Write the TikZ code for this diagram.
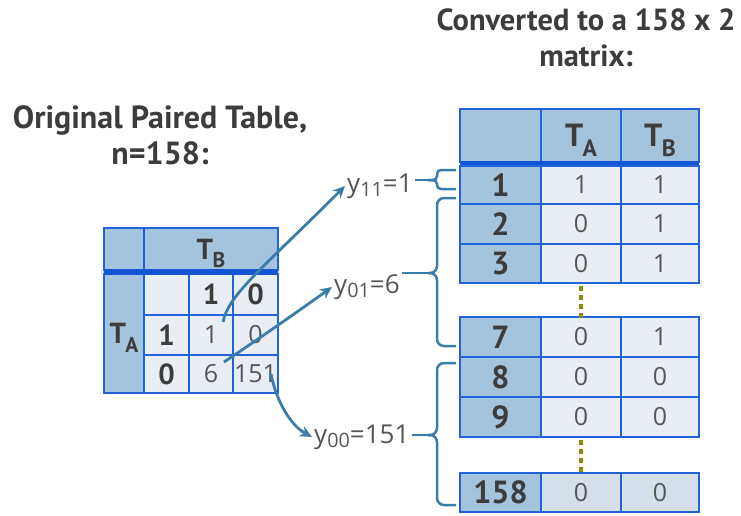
\documentclass[tikz,border=0pt]{standalone}
\usepackage{fontspec}
\usepackage{graphicx}
\setmainfont{Open Sans}
\newfontfamily\headfont{PT Sans}
\usetikzlibrary{arrows.meta}

\definecolor{hdrfill}{HTML}{A3C4DC}
\definecolor{cellfill}{HTML}{E9EEF5}
\definecolor{lastfill}{HTML}{D4DFEA}
\definecolor{gridblue}{HTML}{2263D9}
\definecolor{bandblue}{HTML}{1356D4}
\definecolor{linkblue}{HTML}{3A7DA8}
\definecolor{dotolive}{HTML}{8A8A12}
\definecolor{inktext}{HTML}{3C3C3C}
\definecolor{numtext}{HTML}{555555}

% T with a large lowered subscript
\newcommand\subT[1]{T\kern-0.02em\raisebox{-0.30em}{\scalebox{0.74}{#1}}}
% lowered subscript for the count labels
\newcommand\lsub[1]{\raisebox{-0.18em}{\scalebox{0.76}{#1}}}
% cell given by its corners: name, x1, y1, x2, y2, style, text
\newcommand\cell[7]{\node[#6, minimum width={(#4)-(#2)}, minimum height={(#5)-(#3)}] (#1) at ({((#2)+(#4))/2},{((#3)+(#5))/2}) {#7};}
% curly brace: top, bottom, middle, tip name, corner radius
\newcommand\curly[5]{%
  \coordinate (#4) at (428,#3);
  \draw[bracestyle, rounded corners=#5] (456,#1) -- (437,#1) -- (437,#3) -- (#4);
  \draw[bracestyle, rounded corners=#5] (456,#2) -- (437,#2) -- (437,#3) -- (#4);}

\begin{document}
\begin{tikzpicture}[x=1pt,y=-1pt,
  cellbox/.style={draw=gridblue, line width=2pt, inner sep=0pt, outer sep=0pt, anchor=center},
  hdr/.style={cellbox, fill=hdrfill},
  body/.style={cellbox, fill=cellfill},
  lastrow/.style={cellbox, fill=lastfill},
  boldtxt/.style={font=\headfont\bfseries\fontsize{32}{32}\selectfont, text=inktext},
  smallbold/.style={font=\headfont\bfseries\fontsize{29}{29}\selectfont, text=inktext},
  numtxt/.style={font=\fontsize{25}{25}\selectfont, text=numtext},
  title/.style={font=\headfont\bfseries\fontsize{32}{36}\selectfont, text=inktext, align=center},
  lbl/.style={font=\fontsize{26}{26}\selectfont, text=numtext, inner sep=2pt},
  band/.style={draw=bandblue, line width=6pt},
  bracestyle/.style={draw=linkblue, line width=2.5pt},
  link/.style={draw=linkblue, line width=2.8pt, -{Stealth[length=12pt,width=11pt]}},
  dotted olive/.style={draw=dotolive, line width=4pt, dash pattern=on 5pt off 4pt}]

\useasboundingbox (0,0) rectangle (741,515);

% titles
\node[title, font=\headfont\bfseries\fontsize{30.5}{36}\selectfont] (ttlR) at (586,38) {Converted to a 158 x 2\\matrix:};
\node[title] (ttlL) at (160,135) {Original Paired Table,\\n=158:};

% ---- original paired table ----
\cell{lc}{104}{228}{144}{270}{hdr}{}
\cell{lTB}{144}{228}{278}{270}{hdr,smallbold,text depth=0pt}{\subT{B}}
\cell{lTA}{104}{274}{144}{393}{hdr,smallbold,text depth=0pt}{\subT{A}}
\cell{l11}{144}{274}{189}{315}{body}{}
\cell{l12}{189}{274}{233}{315}{body,smallbold}{1}
\cell{l13}{233}{274}{278}{315}{body,smallbold}{0}
\cell{l21}{144}{315}{189}{355}{body,smallbold}{1}
\cell{l22}{189}{315}{233}{355}{body,numtxt}{1}
\cell{l23}{233}{315}{278}{355}{body,numtxt}{0}
\cell{l31}{144}{355}{189}{393}{body,smallbold}{0}
\cell{l32}{189}{355}{233}{393}{body,numtxt}{6}
\cell{l33}{233}{355}{278}{393}{body,numtxt}{151}
\draw[band] (lc.south west) ++(0,2) coordinate (lbA) -- (lTB.south east |- lbA);

% ---- converted matrix ----
\cell{rc}{460}{109}{541}{162}{hdr}{}
\cell{rTA}{541}{109}{621}{162}{hdr,boldtxt,text depth=0pt}{\subT{A}}
\cell{rTB}{621}{109}{699}{162}{hdr,boldtxt,text depth=0pt}{\subT{B}}
\draw[band] (rc.south west) ++(0,2) coordinate (rbA) -- (rTB.south east |- rbA);

\cell{r1a}{460}{166}{541}{204}{hdr,boldtxt}{1}
\cell{r1b}{541}{166}{621}{204}{body,numtxt}{1}
\cell{r1c}{621}{166}{699}{204}{body,numtxt}{1}
\cell{r2a}{460}{204}{541}{244}{hdr,boldtxt}{2}
\cell{r2b}{541}{204}{621}{244}{body,numtxt}{0}
\cell{r2c}{621}{204}{699}{244}{body,numtxt}{1}
\cell{r3a}{460}{244}{541}{283}{hdr,boldtxt}{3}
\cell{r3b}{541}{244}{621}{283}{body,numtxt}{0}
\cell{r3c}{621}{244}{699}{283}{body,numtxt}{1}

\cell{r7a}{460}{317}{541}{357}{hdr,boldtxt}{7}
\cell{r7b}{541}{317}{621}{357}{body,numtxt}{0}
\cell{r7c}{621}{317}{699}{357}{body,numtxt}{1}
\cell{r8a}{460}{357}{541}{397}{hdr,boldtxt}{8}
\cell{r8b}{541}{357}{621}{397}{body,numtxt}{0}
\cell{r8c}{621}{357}{699}{397}{body,numtxt}{0}
\cell{r9a}{460}{397}{541}{437}{hdr,boldtxt}{9}
\cell{r9b}{541}{397}{621}{437}{body,numtxt}{0}
\cell{r9c}{621}{397}{699}{437}{body,numtxt}{0}

\cell{rNa}{460}{473}{541}{512}{hdr,boldtxt}{158}
\cell{rNb}{541}{473}{621}{512}{lastrow,numtxt}{0}
\cell{rNc}{621}{473}{699}{512}{lastrow,numtxt}{0}

% ellipsis dots between row groups
\draw[dotted olive] (r3b.south) ++(0,3) -- ([yshift=-2pt]r7b.north);
\draw[dotted olive] (r9b.south) ++(0,3) -- ([yshift=-2pt]rNb.north);

% ---- braces grouping the rows ----
\curly{170}{189}{180}{tip1}{4pt}
\curly{198}{346}{273}{tip2}{7pt}
\curly{363}{505}{435}{tip3}{7pt}

% ---- count labels ----
\node[lbl, anchor=west] (y11) at (345,186) {y\lsub{11}=1};
\node[lbl, anchor=west] (y01) at (332,287) {y\lsub{01}=6};
\node[lbl, anchor=west] (y00) at (312,437) {y\lsub{00}=151};
\draw[bracestyle] (y11.east |- tip1) -- (tip1);
\draw[bracestyle] (y01.east |- tip2) -- (tip2);
\draw[bracestyle] (y00.east |- tip3) -- (tip3);

% ---- arrows from cells to counts ----
\coordinate (a1s) at (223,322);
\coordinate (a2s) at (224,362);
\coordinate (a3s) at (271,374);
\draw[link] (a1s) .. controls (228,295) and (264,267) .. (y11.west);
\draw[link] (a2s) .. controls (260,338) and (300,310) .. (y01.west);
\draw[link] (a3s) .. controls (276,400) and (290,425) .. (y00.west);

\end{tikzpicture}
\end{document}
